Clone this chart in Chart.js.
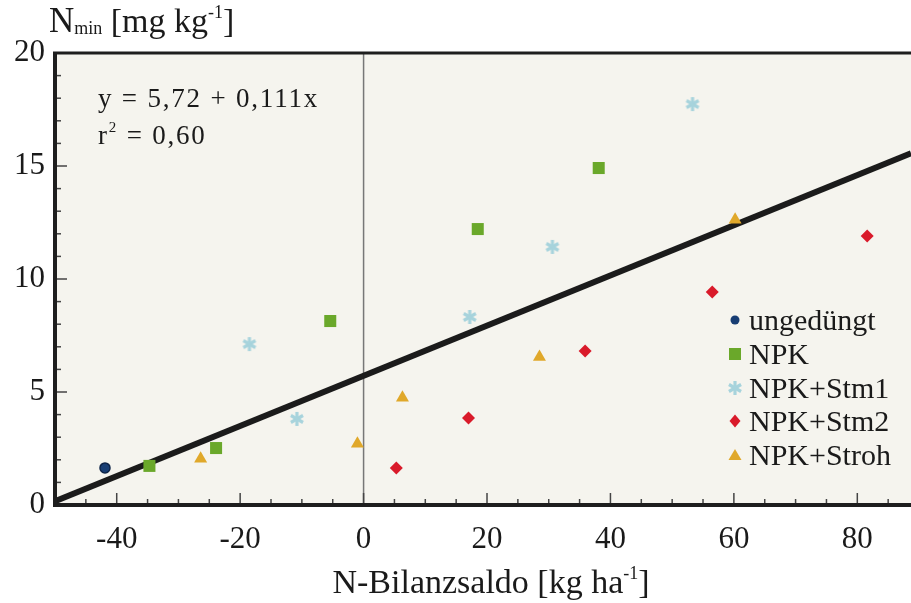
<!DOCTYPE html>
<html>
<head>
<meta charset="utf-8">
<script src="https://cdn.jsdelivr.net/npm/chart.js@4"></script>
<style>
  html, body { margin: 0; padding: 0; background: #ffffff; }
  #wrap { width: 911px; height: 603px; position: relative; }
</style>
</head>
<body>
<div id="wrap"><canvas id="nminChart"></canvas></div>
<script>
// values
var ungeduengtX = [-41.9];
var ungeduengtY = [1.64];
var npkX = [-34.7, -23.9, -5.4, 18.5, 38.1];
var npkY = [1.73, 2.52, 8.14, 12.21, 14.91];
var stm1X = [-18.5, -10.8, 17.2, 30.6, 53.3];
var stm1Y = [7.12, 3.81, 8.32, 11.42, 17.74];
var stm2X = [5.3, 17.0, 35.9, 56.5, 81.6];
var stm2Y = [1.64, 3.85, 6.81, 9.42, 11.90];
var strohX = [-26.4, -1.0, 6.3, 28.5, 60.2];
var strohY = [2.05, 2.71, 4.75, 6.55, 12.62];

// regression from the printed equation
var intercept = 5.72;
var slope = 0.111;
var fitX = [-50, 88.7];

var xTicks = [-40, -20, 0, 20, 40, 60, 80];
var yTicks = [0, 5, 10, 15, 20];

var seriesNames = ['ungedüngt', 'NPK', 'NPK+Stm1', 'NPK+Stm2', 'NPK+Stroh'];

function zip(xs, ys) {
    return xs.map((x, i) => ({ x: x, y: ys[i] }));
}

// 6-spoke asterisk for NPK+Stm1
function makeAsterisk(size, color) {
    var c = document.createElement('canvas');
    c.width = size;
    c.height = size;
    var g = c.getContext('2d');
    g.strokeStyle = color;
    g.lineWidth = 3.2;
    var r = size / 2 - 1;
    for (var i = 0; i < 3; i++) {
        var a = Math.PI / 2 + i * Math.PI / 3;
        g.beginPath();
        g.moveTo(size / 2 + Math.cos(a) * r, size / 2 + Math.sin(a) * r);
        g.lineTo(size / 2 - Math.cos(a) * r, size / 2 - Math.sin(a) * r);
        g.stroke();
    }
    return c;
}
var asterisk = makeAsterisk(16, '#a7d3dc');

var colors = ['#173d73', '#6aa82a', '#a7d3dc', '#d91a2a', '#e0a82a'];

function drawMarker(ctx, i, x, y) {
    ctx.save();
    ctx.fillStyle = colors[i];
    ctx.beginPath();
    if (i === 0) {
        ctx.arc(x, y, 4.5, 0, Math.PI * 2);
        ctx.fill();
    } else if (i === 1) {
        ctx.fillRect(x - 6, y - 6, 12, 12);
    } else if (i === 2) {
        ctx.drawImage(asterisk, x - 8, y - 8);
    } else if (i === 3) {
        ctx.moveTo(x, y - 6.5);
        ctx.lineTo(x + 5.5, y);
        ctx.lineTo(x, y + 6.5);
        ctx.lineTo(x - 5.5, y);
        ctx.closePath();
        ctx.fill();
    } else {
        ctx.moveTo(x, y - 6);
        ctx.lineTo(x + 6.5, y + 5);
        ctx.lineTo(x - 6.5, y + 5);
        ctx.closePath();
        ctx.fill();
    }
    ctx.restore();
}

var serif = '"Liberation Serif", "Times New Roman", serif';

// text with a raised or lowered small part
function drawParts(ctx, parts, x, baseline) {
    parts.forEach(p => {
        ctx.font = p.size + 'px ' + serif;
        ctx.fillText(p.t, x, baseline + (p.dy || 0));
        x += ctx.measureText(p.t).width;
    });
    return x;
}
function partsWidth(ctx, parts) {
    var w = 0;
    parts.forEach(p => {
        ctx.font = p.size + 'px ' + serif;
        w += ctx.measureText(p.t).width;
    });
    return w;
}

var framePlugin = {
    id: 'frame',
    beforeDraw(chart) {
        var ctx = chart.ctx, a = chart.chartArea;
        ctx.save();
        ctx.fillStyle = '#f5f4ee';
        ctx.fillRect(a.left, a.top, a.right - a.left, a.bottom - a.top);
        // vertical line at x = 0
        var x0 = chart.scales.x.getPixelForValue(0);
        ctx.strokeStyle = '#777777';
        ctx.lineWidth = 1.5;
        ctx.beginPath();
        ctx.moveTo(x0, a.top);
        ctx.lineTo(x0, a.bottom);
        ctx.stroke();
        ctx.restore();
    },
    afterDraw(chart) {
        var ctx = chart.ctx, a = chart.chartArea;
        var xs = chart.scales.x, ys = chart.scales.y;
        ctx.save();
        // inward ticks
        ctx.strokeStyle = '#444444';
        ctx.lineWidth = 1.5;
        for (var v = -45; v <= 85; v += 5) {
            var px = xs.getPixelForValue(v);
            var len = (v % 20 === 0) ? 12 : 6;
            ctx.beginPath();
            ctx.moveTo(px, a.bottom);
            ctx.lineTo(px, a.bottom - len);
            ctx.stroke();
        }
        for (var w = 1; w < 20; w++) {
            var py = ys.getPixelForValue(w);
            var l2 = (w % 5 === 0) ? 12 : 6;
            ctx.beginPath();
            ctx.moveTo(a.left, py);
            ctx.lineTo(a.left + l2, py);
            ctx.stroke();
        }
        // frame
        ctx.strokeStyle = '#1e1e1e';
        ctx.lineWidth = 4;
        ctx.beginPath();
        ctx.moveTo(a.right + 2, a.bottom);
        ctx.lineTo(a.left, a.bottom);
        ctx.lineTo(a.left, a.top);
        ctx.stroke();
        ctx.lineWidth = 3;
        ctx.beginPath();
        ctx.moveTo(a.left - 2, a.top);
        ctx.lineTo(a.right + 2, a.top);
        ctx.stroke();

        ctx.fillStyle = '#1a1a1a';
        ctx.textBaseline = 'alphabetic';
        ctx.textAlign = 'left';
        // y axis title
        drawParts(ctx, [
            { t: 'N', size: 35 },
            { t: 'min', size: 18, dy: 2 },
            { t: ' [mg kg', size: 34 },
            { t: '-1', size: 18, dy: -14 },
            { t: ']', size: 34 }
        ], 49, 32);
        // x axis title
        var xt = [
            { t: 'N-Bilanzsaldo [kg ha', size: 34 },
            { t: '-1', size: 18, dy: -14 },
            { t: ']', size: 34 }
        ];
        drawParts(ctx, xt, 491 - partsWidth(ctx, xt) / 2, 593);
        // equation
        ctx.letterSpacing = '1.8px';
        drawParts(ctx, [{ t: 'y = 5,72 + 0,111x', size: 27 }], 98, 107);
        drawParts(ctx, [
            { t: 'r', size: 27 },
            { t: '2', size: 15, dy: -12 },
            { t: ' = 0,60', size: 27 }
        ], 98, 144);
        ctx.letterSpacing = '0px';
        // legend
        var legY = [320, 354, 388, 421, 455];
        seriesNames.forEach((name, i) => {
            drawMarker(ctx, i, 735, legY[i]);
            ctx.font = '30px ' + serif;
            ctx.fillText(name, 749, legY[i] + 10);
        });
        ctx.restore();
    }
};

var ctx = document.getElementById('nminChart').getContext('2d');

new Chart(ctx, {
    type: 'scatter',
    data: {
        datasets: [{
            label: 'Regression',
            type: 'line',
            data: zip(fitX, fitX.map(x => intercept + slope * x)),
            borderColor: '#1b1b1b',
            borderWidth: 6,
            pointRadius: 0,
            fill: false,
            order: 2,
        }, {
            label: seriesNames[0],
            data: zip(ungeduengtX, ungeduengtY),
            pointStyle: 'circle',
            pointRadius: 5,
            backgroundColor: colors[0],
            borderColor: '#0c2347',
            borderWidth: 1.5,
            order: 1,
        }, {
            label: seriesNames[1],
            data: zip(npkX, npkY),
            pointStyle: 'rect',
            pointRadius: 8.5,
            backgroundColor: colors[1],
            borderWidth: 0,
            order: 1,
        }, {
            label: seriesNames[2],
            data: zip(stm1X, stm1Y),
            pointStyle: asterisk,
            backgroundColor: colors[2],
            order: 1,
        }, {
            label: seriesNames[3],
            data: zip(stm2X, stm2Y),
            pointStyle: 'rectRot',
            pointRadius: 6.5,
            backgroundColor: colors[3],
            borderWidth: 0,
            order: 1,
        }, {
            label: seriesNames[4],
            data: zip(strohX, strohY),
            pointStyle: 'triangle',
            pointRadius: 7.5,
            backgroundColor: colors[4],
            borderWidth: 0,
            order: 1,
        }],
    },
    options: {
        responsive: true,
        maintainAspectRatio: false,
        animation: false,
        layout: {
            autoPadding: false,
            padding: { top: 53, right: 0, bottom: 0, left: 0 },
        },
        plugins: {
            legend: { display: false },
            tooltip: { enabled: false },
        },
        scales: {
            x: {
                type: 'linear',
                min: -50,
                max: 88.7,
                border: { display: false },
                grid: { display: false, drawTicks: false },
                afterBuildTicks: scale => {
                    scale.ticks = xTicks.map(v => ({ value: v }));
                },
                afterFit: scale => {
                    scale.height = 98;
                    scale.paddingLeft = 0;
                    scale.paddingRight = 0;
                },
                ticks: {
                    color: '#1a1a1a',
                    padding: 16,
                    maxRotation: 0,
                    font: { family: serif, size: 31 },
                },
            },
            y: {
                min: 0,
                max: 20,
                border: { display: false },
                grid: { display: false, drawTicks: false },
                afterBuildTicks: scale => {
                    scale.ticks = yTicks.map(v => ({ value: v }));
                },
                afterFit: scale => {
                    scale.width = 55;
                    scale.paddingTop = 0;
                    scale.paddingBottom = 0;
                },
                ticks: {
                    color: '#1a1a1a',
                    padding: 10,
                    font: { family: serif, size: 31 },
                },
            },
        },
    },
    plugins: [framePlugin],
});
</script>
</body>
</html>
